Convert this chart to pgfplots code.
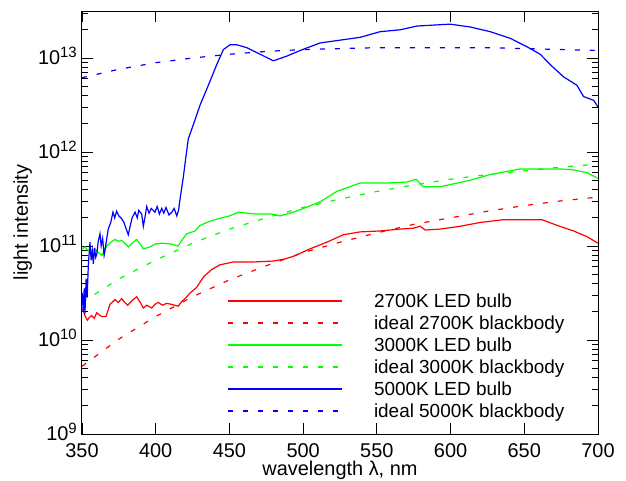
\documentclass[border=0pt]{standalone}
\usepackage{fontspec}
\setmainfont{Liberation Sans}
\usepackage{pgfplots}
\pgfplotsset{compat=1.18}
\pgfplotsset{
  legend image code/.code={\draw[#1, line width=2bp] (0bp,0bp) -- (114bp,0bp);},
}
\newcommand\ytl[1]{10\raisebox{7.5bp}{\fontsize{15}{15}\selectfont #1}}
\begin{document}
\begin{tikzpicture}
\useasboundingbox (-82bp,-47bp) rectangle (544bp,434bp);
\begin{axis}[
  scale only axis, width=516bp, height=423bp,
  at={(0,0)}, anchor=south west,
  xmin=350, xmax=700, ymin=9, ymax=13.5,
  xtick={350,400,...,700},
  ytick={9,10,11,12,13},
  yticklabels={\ytl{9},\ytl{10},\ytl{11},\ytl{12},\ytl{13}},
  minor ytick={9.301,9.477,9.602,9.699,9.778,9.845,9.903,9.954,
    10.301,10.477,10.602,10.699,10.778,10.845,10.903,10.954,
    11.301,11.477,11.602,11.699,11.778,11.845,11.903,11.954,
    12.301,12.477,12.602,12.699,12.778,12.845,12.903,12.954,
    13.301,13.477},
  tick align=inside,
  major tick length=11bp, minor tick length=6bp,
  every tick/.style={black, line width=0.8bp},
  axis line style={black, line width=1bp},
  /pgf/number format/assume math mode=true,
  tick label style={font=\fontsize{20}{24}\selectfont},
  xticklabel style={inner sep=0pt, anchor=north, yshift=-9.3bp},
  yticklabel style={inner sep=0pt, anchor=base east, xshift=-5bp, yshift=-6.7bp},
  xlabel={wavelength λ, nm},
  ylabel={light intensity},
  label style={font=\fontsize{20}{24}\selectfont},
  xlabel style={at={(axis description cs:0.5,-0.099)}, anchor=base},
  ylabel style={at={(axis description cs:-0.1047,0.5)}, anchor=base},
  no markers,
  every axis plot/.append style={line width=1.2bp},
  legend cell align=left,
  legend style={at={(0.281008,0.340426)}, anchor=north west, draw=none,
    inner sep=0pt, outer sep=0pt, row sep=0pt, column sep=31bp,
    font=\fontsize{19}{22}\selectfont,
    nodes={inner sep=0pt, text height=17.3bp, text depth=4.7bp}},
]
% 2700K LED bulb (log10 of intensity)
\addplot[color=red] coordinates {
(350.5,10.33)(352.0,10.26)(353.6,10.21)(355.0,10.24)(356.6,10.26)(358.3,10.23)
(360.0,10.29)(361.5,10.27)(363.4,10.25)(366.3,10.25)(369.0,10.38)(372.4,10.43)
(374.5,10.40)(376.9,10.44)(379.0,10.40)(381.0,10.37)(384.0,10.42)(387.1,10.46)
(389.5,10.40)(391.6,10.34)(394.0,10.37)(397.3,10.34)(399.5,10.38)(401.8,10.40)
(404.5,10.37)(407.5,10.39)(410.5,10.38)(413.0,10.37)(415.3,10.36)(417.7,10.41)
(420.5,10.45)(423.3,10.50)(427.8,10.56)(432.3,10.67)(438.0,10.75)(443.6,10.80)
(452.7,10.83)(466.2,10.83)(479.8,10.84)(487.0,10.86)(493.4,10.89)(504.7,10.97)
(516.0,11.04)(527.3,11.12)(538.6,11.15)(552.2,11.16)(565.8,11.18)(575.0,11.19)
(579.4,11.21)(582.8,11.17)(592.9,11.18)(606.5,11.21)(620.0,11.25)(635.9,11.28)
(651.8,11.28)(662.0,11.28)(672.2,11.22)(683.4,11.16)(692.5,11.10)(700.0,11.03)
};
% ideal 2700K blackbody
\addplot[color=red, dash pattern=on 5bp off 10bp] coordinates {
(350,9.72)(375,10.01)(400,10.25)(425,10.46)(450,10.64)(475,10.79)(500,10.93)
(525,11.04)(550,11.14)(575,11.23)(600,11.30)(625,11.37)(650,11.43)(675,11.48)(700,11.52)
};
% 3000K LED bulb
\addplot[color=green] coordinates {
(350.3,10.97)(352.0,10.99)(353.6,10.96)(356.6,10.94)(358.8,10.97)(361.0,10.93)
(363.4,10.90)(365.0,10.95)(366.8,11.00)(369.5,11.04)(372.4,11.07)(374.5,11.05)
(376.9,11.06)(379.0,11.03)(381.4,10.99)(384.0,11.03)(387.1,11.07)(389.5,11.02)
(391.6,10.97)(394.0,10.98)(396.1,10.99)(399.5,11.02)(404.1,11.03)(410.9,11.02)
(415.3,11.00)(417.7,11.06)(421.0,11.13)(426.7,11.16)(430.1,11.22)(438.0,11.27)
(444.8,11.30)(450.0,11.32)(456.1,11.36)(467.4,11.34)(478.7,11.34)(484.4,11.32)
(493.4,11.36)(502.0,11.41)(511.5,11.47)(522.8,11.58)(538.6,11.67)(556.8,11.67)
(570.3,11.68)(576.6,11.71)(581.6,11.63)(592.9,11.63)(613.3,11.70)(626.9,11.76)
(647.2,11.82)(660.0,11.82)(674.4,11.82)(683.4,11.81)(692.5,11.78)(700.0,11.72)
};
% ideal 3000K blackbody
\addplot[color=green, dash pattern=on 5bp off 10bp] coordinates {
(350,10.40)(375,10.65)(400,10.85)(425,11.03)(450,11.18)(475,11.30)(500,11.41)
(525,11.50)(550,11.58)(575,11.65)(600,11.71)(625,11.76)(650,11.80)(675,11.84)(700,11.87)
};
% 5000K LED bulb
\addplot[color=blue] coordinates {
(350.2,10.50)(350.8,10.30)(351.5,10.55)(352.0,10.28)(352.8,10.65)(353.5,10.45)
(354.3,10.80)(355.4,11.04)(356.2,10.85)(357.0,10.95)(357.7,10.81)(358.5,10.98)
(359.3,10.88)(360.0,10.91)(361.0,11.05)(362.2,11.13)(363.0,11.00)(364.0,11.08)
(365.0,10.90)(365.6,10.95)(366.5,11.05)(367.8,11.18)(369.5,11.25)(371.0,11.36)
(372.2,11.30)(373.5,11.37)(375.0,11.32)(376.9,11.29)(378.5,11.25)(380.0,11.18)
(381.4,11.12)(382.5,11.20)(384.0,11.30)(386.0,11.36)(387.5,11.30)(388.5,11.38)
(390.5,11.34)(391.6,11.21)(393.0,11.33)(393.9,11.42)(395.5,11.35)(397.0,11.40)
(399.5,11.36)(401.0,11.42)(402.5,11.34)(404.1,11.40)(405.5,11.35)(407.0,11.41)
(409.0,11.33)(410.9,11.36)(412.5,11.40)(414.3,11.32)(415.5,11.38)(416.5,11.50)
(418.7,11.73)(420.5,11.95)(422.1,12.14)(425.5,12.29)(430.1,12.50)(435.7,12.71)
(441.4,12.93)(445.9,13.09)(450.4,13.14)(455.0,13.14)(461.8,13.11)(470.8,13.04)
(479.8,12.97)(488.9,13.02)(498.0,13.08)(504.7,13.12)(511.5,13.16)(525.1,13.19)
(538.7,13.22)(552.2,13.28)(565.8,13.30)(577.1,13.34)(599.7,13.36)(613.3,13.33)
(626.9,13.28)(640.4,13.21)(651.8,13.12)(660.8,13.04)(667.6,12.93)(676.6,12.80)
(685.7,12.71)(690.2,12.59)(697.0,12.55)(700.0,12.48)
};
% ideal 5000K blackbody
\addplot[color=blue, dash pattern=on 5bp off 10bp] coordinates {
(350,12.79)(375,12.88)(400,12.95)(425,13.00)(450,13.04)(475,13.07)(500,13.09)
(525,13.10)(550,13.11)(575,13.11)(600,13.11)(625,13.11)(650,13.10)(675,13.09)(700,13.08)
};
\legend{2700K LED bulb,ideal 2700K blackbody,3000K LED bulb,ideal 3000K blackbody,5000K LED bulb,ideal 5000K blackbody}
\end{axis}
\end{tikzpicture}
\end{document}
